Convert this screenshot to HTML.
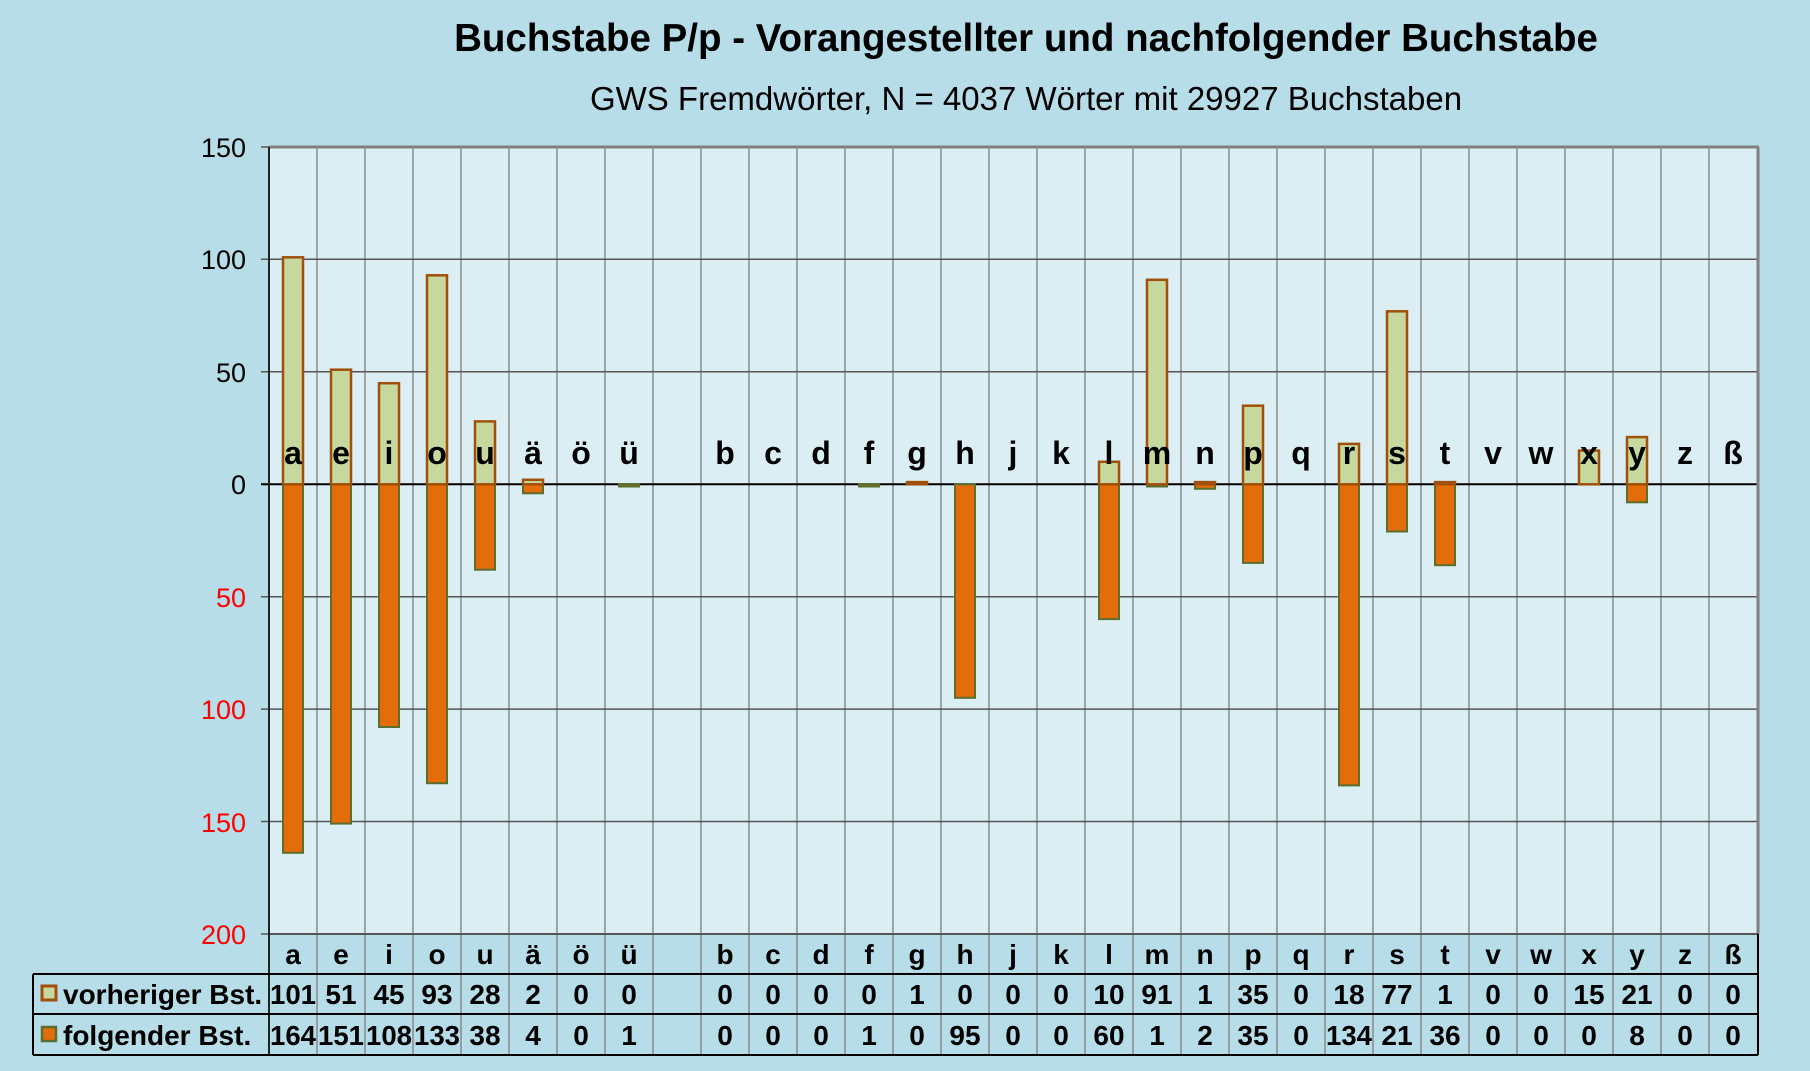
<!DOCTYPE html>
<html><head><meta charset="utf-8"><style>
html,body{margin:0;padding:0;background:#b7dde8;}
svg{display:block;font-family:"Liberation Sans",Arial,sans-serif;}
</style></head><body>
<svg width="1810" height="1071" xmlns="http://www.w3.org/2000/svg">
<rect width="1810" height="1071" fill="#b7dde8"/>
<text x="1026" y="51" font-size="38.5" font-weight="bold" text-anchor="middle">Buchstabe P/p - Vorangestellter und nachfolgender Buchstabe</text>
<text x="1026" y="110" font-size="33" text-anchor="middle">GWS Fremdwörter,  N = 4037 Wörter mit 29927 Buchstaben</text>
<rect x="269" y="147" width="1488" height="787" fill="#daeef4"/>
<g stroke="#8a8a8a" stroke-width="1.5">
<line x1="317" y1="147" x2="317" y2="1055"/><line x1="365" y1="147" x2="365" y2="1055"/><line x1="413" y1="147" x2="413" y2="1055"/><line x1="461" y1="147" x2="461" y2="1055"/><line x1="509" y1="147" x2="509" y2="1055"/><line x1="557" y1="147" x2="557" y2="1055"/><line x1="605" y1="147" x2="605" y2="1055"/><line x1="653" y1="147" x2="653" y2="1055"/><line x1="701" y1="147" x2="701" y2="1055"/><line x1="749" y1="147" x2="749" y2="1055"/><line x1="797" y1="147" x2="797" y2="1055"/><line x1="845" y1="147" x2="845" y2="1055"/><line x1="893" y1="147" x2="893" y2="1055"/><line x1="941" y1="147" x2="941" y2="1055"/><line x1="989" y1="147" x2="989" y2="1055"/><line x1="1037" y1="147" x2="1037" y2="1055"/><line x1="1085" y1="147" x2="1085" y2="1055"/><line x1="1133" y1="147" x2="1133" y2="1055"/><line x1="1181" y1="147" x2="1181" y2="1055"/><line x1="1229" y1="147" x2="1229" y2="1055"/><line x1="1277" y1="147" x2="1277" y2="1055"/><line x1="1325" y1="147" x2="1325" y2="1055"/><line x1="1373" y1="147" x2="1373" y2="1055"/><line x1="1421" y1="147" x2="1421" y2="1055"/><line x1="1469" y1="147" x2="1469" y2="1055"/><line x1="1517" y1="147" x2="1517" y2="1055"/><line x1="1565" y1="147" x2="1565" y2="1055"/><line x1="1613" y1="147" x2="1613" y2="1055"/><line x1="1661" y1="147" x2="1661" y2="1055"/><line x1="1709" y1="147" x2="1709" y2="1055"/>
</g>
<g stroke="#555" stroke-width="1.5">
<line x1="261" y1="259.3" x2="1757" y2="259.3"/><line x1="261" y1="371.7" x2="1757" y2="371.7"/><line x1="261" y1="596.7" x2="1757" y2="596.7"/><line x1="261" y1="709.1" x2="1757" y2="709.1"/><line x1="261" y1="821.5" x2="1757" y2="821.5"/>
<line x1="261" y1="147" x2="269" y2="147"/><line x1="261" y1="934" x2="269" y2="934"/>
</g>
<line x1="261" y1="484.3" x2="1757" y2="484.3" stroke="#000" stroke-width="2"/>
<g fill="#e46c0a" stroke="#5a6e2e" stroke-width="2">
<rect x="283" y="484.3" width="20" height="368.5"/><rect x="331" y="484.3" width="20" height="339.3"/><rect x="379" y="484.3" width="20" height="242.7"/><rect x="427" y="484.3" width="20" height="298.9"/><rect x="475" y="484.3" width="20" height="85.4"/><rect x="523" y="484.3" width="20" height="9"/><rect x="619" y="484.3" width="20" height="2.2"/><rect x="859" y="484.3" width="20" height="2.2"/><rect x="955" y="484.3" width="20" height="213.5"/><rect x="1099" y="484.3" width="20" height="134.8"/><rect x="1147" y="484.3" width="20" height="2.2"/><rect x="1195" y="484.3" width="20" height="4.5"/><rect x="1243" y="484.3" width="20" height="78.6"/><rect x="1339" y="484.3" width="20" height="301.1"/><rect x="1387" y="484.3" width="20" height="47.2"/><rect x="1435" y="484.3" width="20" height="80.9"/><rect x="1627" y="484.3" width="20" height="18"/>
</g>
<g fill="#c6d89e" stroke="#a0500a" stroke-width="2.5">
<rect x="283" y="257.3" width="20" height="227"/><rect x="331" y="369.7" width="20" height="114.6"/><rect x="379" y="383.2" width="20" height="101.1"/><rect x="427" y="275.3" width="20" height="209"/><rect x="475" y="421.4" width="20" height="62.9"/><rect x="523" y="479.8" width="20" height="4.5"/><rect x="907" y="482.1" width="20" height="2.2"/><rect x="1099" y="461.8" width="20" height="22.5"/><rect x="1147" y="279.8" width="20" height="204.5"/><rect x="1195" y="482.1" width="20" height="2.2"/><rect x="1243" y="405.7" width="20" height="78.6"/><rect x="1339" y="443.9" width="20" height="40.4"/><rect x="1387" y="311.3" width="20" height="173"/><rect x="1435" y="482.1" width="20" height="2.2"/><rect x="1579" y="450.6" width="20" height="33.7"/><rect x="1627" y="437.1" width="20" height="47.2"/>
</g>
<line x1="269" y1="147" x2="1759" y2="147" stroke="#808080" stroke-width="3"/>
<line x1="1758" y1="147" x2="1758" y2="934" stroke="#808080" stroke-width="3"/>
<line x1="269" y1="934" x2="1758" y2="934" stroke="#555" stroke-width="2"/>
<line x1="269" y1="147" x2="269" y2="1055" stroke="#222" stroke-width="2"/>
<g font-size="27" text-anchor="end">
<text x="246" y="157">150</text><text x="246" y="269">100</text><text x="246" y="382">50</text><text x="246" y="494">0</text>
<g fill="#ff0000"><text x="246" y="607">50</text><text x="246" y="719">100</text><text x="246" y="832">150</text><text x="246" y="944">200</text></g>
</g>
<g font-size="32" font-weight="bold" text-anchor="middle">
<text x="293" y="464">a</text><text x="341" y="464">e</text><text x="389" y="464">i</text><text x="437" y="464">o</text><text x="485" y="464">u</text><text x="533" y="464">ä</text><text x="581" y="464">ö</text><text x="629" y="464">ü</text><text x="725" y="464">b</text><text x="773" y="464">c</text><text x="821" y="464">d</text><text x="869" y="464">f</text><text x="917" y="464">g</text><text x="965" y="464">h</text><text x="1013" y="464">j</text><text x="1061" y="464">k</text><text x="1109" y="464">l</text><text x="1157" y="464">m</text><text x="1205" y="464">n</text><text x="1253" y="464">p</text><text x="1301" y="464">q</text><text x="1349" y="464">r</text><text x="1397" y="464">s</text><text x="1445" y="464">t</text><text x="1493" y="464">v</text><text x="1541" y="464">w</text><text x="1589" y="464">x</text><text x="1637" y="464">y</text><text x="1685" y="464">z</text><text x="1733" y="464">ß</text>
</g>
<g stroke="#000" stroke-width="2">
<line x1="33" y1="974" x2="1758" y2="974"/><line x1="33" y1="1014" x2="1758" y2="1014"/><line x1="33" y1="1055" x2="1758" y2="1055"/><line x1="33" y1="974" x2="33" y2="1055"/><line x1="1758" y1="934" x2="1758" y2="1055"/>
</g>
<rect x="42" y="986" width="14" height="14" fill="#c6d89e" stroke="#a0500a" stroke-width="3"/>
<rect x="42" y="1027" width="14" height="14" fill="#e46c0a" stroke="#5a6e2e" stroke-width="2.5"/>
<g font-size="28" font-weight="bold">
<text x="63" y="1004">vorheriger Bst.</text><text x="63" y="1045">folgender Bst.</text>
</g>
<g font-size="28" font-weight="bold" text-anchor="middle">
<text x="293" y="964">a</text><text x="341" y="964">e</text><text x="389" y="964">i</text><text x="437" y="964">o</text><text x="485" y="964">u</text><text x="533" y="964">ä</text><text x="581" y="964">ö</text><text x="629" y="964">ü</text><text x="725" y="964">b</text><text x="773" y="964">c</text><text x="821" y="964">d</text><text x="869" y="964">f</text><text x="917" y="964">g</text><text x="965" y="964">h</text><text x="1013" y="964">j</text><text x="1061" y="964">k</text><text x="1109" y="964">l</text><text x="1157" y="964">m</text><text x="1205" y="964">n</text><text x="1253" y="964">p</text><text x="1301" y="964">q</text><text x="1349" y="964">r</text><text x="1397" y="964">s</text><text x="1445" y="964">t</text><text x="1493" y="964">v</text><text x="1541" y="964">w</text><text x="1589" y="964">x</text><text x="1637" y="964">y</text><text x="1685" y="964">z</text><text x="1733" y="964">ß</text>
<text x="293" y="1004" textLength="46" lengthAdjust="spacingAndGlyphs">101</text><text x="341" y="1004">51</text><text x="389" y="1004">45</text><text x="437" y="1004">93</text><text x="485" y="1004">28</text><text x="533" y="1004">2</text><text x="581" y="1004">0</text><text x="629" y="1004">0</text><text x="725" y="1004">0</text><text x="773" y="1004">0</text><text x="821" y="1004">0</text><text x="869" y="1004">0</text><text x="917" y="1004">1</text><text x="965" y="1004">0</text><text x="1013" y="1004">0</text><text x="1061" y="1004">0</text><text x="1109" y="1004">10</text><text x="1157" y="1004">91</text><text x="1205" y="1004">1</text><text x="1253" y="1004">35</text><text x="1301" y="1004">0</text><text x="1349" y="1004">18</text><text x="1397" y="1004">77</text><text x="1445" y="1004">1</text><text x="1493" y="1004">0</text><text x="1541" y="1004">0</text><text x="1589" y="1004">15</text><text x="1637" y="1004">21</text><text x="1685" y="1004">0</text><text x="1733" y="1004">0</text>
<text x="293" y="1045" textLength="46" lengthAdjust="spacingAndGlyphs">164</text><text x="341" y="1045" textLength="46" lengthAdjust="spacingAndGlyphs">151</text><text x="389" y="1045" textLength="46" lengthAdjust="spacingAndGlyphs">108</text><text x="437" y="1045" textLength="46" lengthAdjust="spacingAndGlyphs">133</text><text x="485" y="1045">38</text><text x="533" y="1045">4</text><text x="581" y="1045">0</text><text x="629" y="1045">1</text><text x="725" y="1045">0</text><text x="773" y="1045">0</text><text x="821" y="1045">0</text><text x="869" y="1045">1</text><text x="917" y="1045">0</text><text x="965" y="1045">95</text><text x="1013" y="1045">0</text><text x="1061" y="1045">0</text><text x="1109" y="1045">60</text><text x="1157" y="1045">1</text><text x="1205" y="1045">2</text><text x="1253" y="1045">35</text><text x="1301" y="1045">0</text><text x="1349" y="1045" textLength="46" lengthAdjust="spacingAndGlyphs">134</text><text x="1397" y="1045">21</text><text x="1445" y="1045">36</text><text x="1493" y="1045">0</text><text x="1541" y="1045">0</text><text x="1589" y="1045">0</text><text x="1637" y="1045">8</text><text x="1685" y="1045">0</text><text x="1733" y="1045">0</text>
</g>
</svg>
</body></html>
